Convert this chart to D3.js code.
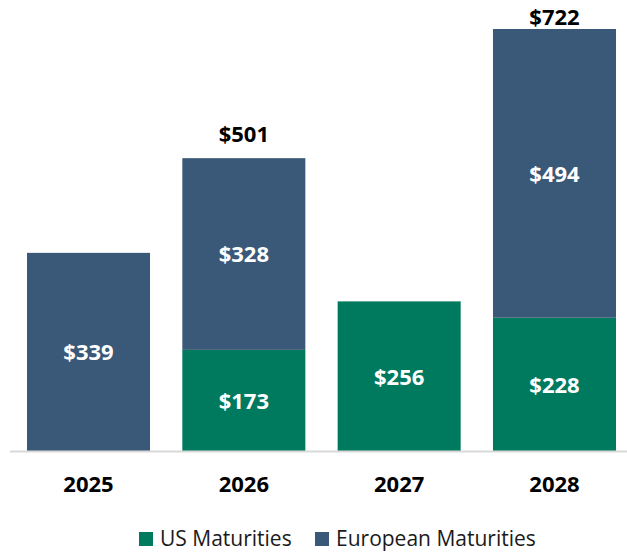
<!DOCTYPE html>
<html>
<head>
<meta charset="utf-8">
<script src="https://cdn.jsdelivr.net/npm/d3@7"></script>
<style>
  body { margin: 0; background: #fff; }
  text { font-family: "Segoe UI", "Open Sans", sans-serif; }
</style>
</head>
<body>
<div id="chart"></div>
<script>
// data
var years = ["2025", "2026", "2027", "2028"]
var usMaturities = [0, 173, 256, 228]
var euMaturities = [339, 328, 0, 494]
var seriesNames = ["US Maturities", "European Maturities"]
var colors = ["#007A5F", "#3A5877"]

var width = 627, height = 552
var margin = { top: 29, left: 10, right: 0, bottom: 102 }

var svg = d3.select("#chart").append("svg")
  .attr("width", width)
  .attr("height", height)

var rows = years.map(function (y, i) {
  return { year: y, us: usMaturities[i], eu: euMaturities[i] }
})

var x = d3.scaleBand()
  .domain(years)
  .range([27, 616])
  .paddingInner(0.208)
  .paddingOuter(0)

var y = d3.scaleLinear()
  .domain([0, d3.max(rows, d => d.us + d.eu)])
  .range([height - margin.bottom + 1, margin.top])

var stack = d3.stack().keys(["us", "eu"])(rows)

var layer = svg.selectAll("g.layer")
  .data(stack)
  .enter().append("g")
  .attr("class", "layer")
  .attr("fill", (d, i) => colors[i])

layer.selectAll("rect")
  .data(d => d)
  .enter().append("rect")
  .attr("x", d => x(d.data.year))
  .attr("y", d => y(d[1]))
  .attr("width", x.bandwidth())
  .attr("height", d => y(d[0]) - y(d[1]))

// segment labels
layer.selectAll("text")
  .data(d => d.filter(s => s[1] - s[0] > 0))
  .enter().append("text")
  .attr("x", d => x(d.data.year) + x.bandwidth() / 2)
  .attr("y", d => (y(d[0]) + y(d[1])) / 2)
  .attr("dy", "0.38em")
  .attr("text-anchor", "middle")
  .attr("fill", "white")
  .attr("font-size", "22px")
  .attr("font-weight", "bold")
  .text(d => "$" + (d[1] - d[0]))

// totals, only where both series present
svg.selectAll("text.total")
  .data(rows.filter(d => d.us > 0 && d.eu > 0))
  .enter().append("text")
  .attr("class", "total")
  .attr("x", d => x(d.year) + x.bandwidth() / 2)
  .attr("y", d => Math.max(y(d.us + d.eu) - 16, 25))
  .attr("text-anchor", "middle")
  .attr("fill", "black")
  .attr("font-size", "22px")
  .attr("font-weight", "bold")
  .text(d => "$" + (d.us + d.eu))

// axis
var axis = svg.append("g")
  .attr("transform", "translate(0," + (y(0) + 0.5) + ")")
  .call(d3.axisBottom(x).tickSize(0).tickPadding(25))
axis.select(".domain")
  .attr("d", "M" + margin.left + ",0H" + width)
  .attr("stroke", "#d9d9d9")
  .attr("stroke-width", 2)
axis.selectAll("text")
  .attr("font-family", "Segoe UI, Open Sans, sans-serif")
  .attr("font-size", "22px")
  .attr("font-weight", "bold")
  .attr("fill", "black")

// legend
var legendX = [139, 315]
var legend = svg.selectAll("g.legend")
  .data(seriesNames)
  .enter().append("g")
  .attr("class", "legend")
  .attr("transform", (d, i) => "translate(" + legendX[i] + ",532)")
legend.append("rect")
  .attr("width", 14)
  .attr("height", 14)
  .attr("fill", (d, i) => colors[i])
legend.append("text")
  .attr("x", 21)
  .attr("y", 14)
  .attr("font-size", "21px")
  .attr("fill", "#1a1a1a")
  .text(d => d)
</script>
</body>
</html>
